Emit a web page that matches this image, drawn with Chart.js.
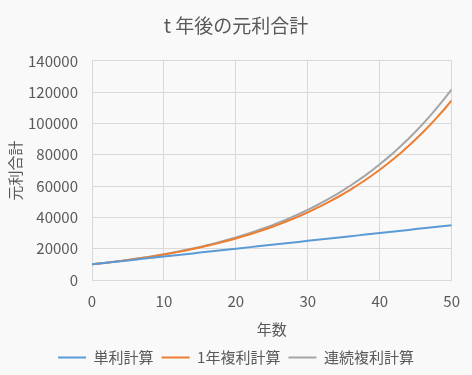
<!DOCTYPE html>
<html>
<head>
<meta charset="utf-8">
<script src="https://cdn.jsdelivr.net/npm/chart.js@4/dist/chart.umd.min.js"></script>
<style>
  body { margin: 0; background: #f9f9f9; }
  #wrap { width: 472px; height: 375px; }
</style>
</head>
<body>
<div id="wrap"><canvas id="chart"></canvas></div>
<script>
// 年数 t (0〜50)
var years = [0,1,2,3,4,5,6,7,8,9,10,11,12,13,14,15,16,17,18,19,20,21,22,23,24,25,
  26,27,28,29,30,31,32,33,34,35,36,37,38,39,40,41,42,43,44,45,46,47,48,49,50]

// 単利計算
var simple = [10000,10500,11000,11500,12000,12500,13000,13500,14000,14500,15000,
  15500,16000,16500,17000,17500,18000,18500,19000,19500,20000,20500,21000,21500,
  22000,22500,23000,23500,24000,24500,25000,25500,26000,26500,27000,27500,28000,
  28500,29000,29500,30000,30500,31000,31500,32000,32500,33000,33500,34000,34500,35000]

// 1年複利計算
var yearly = [10000,10500,11025,11576,12155,12763,13401,14071,14775,15513,16289,
  17103,17959,18856,19799,20789,21829,22920,24066,25270,26533,27860,29253,30715,
  32251,33864,35557,37335,39201,41161,43219,45380,47649,50032,52533,55160,57918,
  60814,63855,67048,70400,73920,77616,81497,85572,89850,94343,99060,104013,109213,114674]

// 連続複利計算
var continuous = [10000,10513,11052,11618,12214,12840,13499,14191,14918,15683,16487,
  17333,18221,19155,20138,21170,22255,23396,24596,25857,27183,28577,30042,31582,
  33201,34903,36693,38574,40552,42631,44817,47115,49530,52070,54739,57546,60496,
  63598,66859,70287,73891,77679,81662,85849,90250,94877,99742,104856,110232,115883,121825]

var colorSimple = "#5b9bd5"
var colorYearly = "#ed7d31"
var colorCont = "#a5a5a5"
var textColor = "#595959"
var gridColor = "#d9d9d9"
var fontFamily = "'Noto Sans CJK JP', 'Noto Sans', sans-serif"

function points(values) {
  return values.map((v, i) => ({ x: years[i], y: v }))
}

function line(label, values, color) {
  return {
    label: label,
    data: points(values),
    borderColor: color,
    backgroundColor: color,
    borderWidth: 2,
    pointRadius: 0,
    tension: 0
  }
}

new Chart(document.getElementById("chart"), {
  type: 'line',
  data: {
    datasets: [
      line('単利計算', simple, colorSimple),
      line('1年複利計算', yearly, colorYearly),
      line('連続複利計算', continuous, colorCont)
    ]
  },
  options: {
    responsive: true,
    maintainAspectRatio: false,
    animation: false,
    layout: { padding: 0 },
    plugins: {
      title: {
        display: true,
        text: 't 年後の元利合計',
        color: textColor,
        font: { family: fontFamily, size: 19, weight: 'normal' },
        padding: { top: 14, bottom: 24 }
      },
      legend: {
        position: 'bottom',
        labels: {
          color: textColor,
          font: { family: fontFamily, size: 15 },
          usePointStyle: true,
          pointStyle: 'line',
          pointStyleWidth: 28,
          padding: 8
        }
      },
      tooltip: { enabled: false }
    },
    scales: {
      x: {
        type: 'linear',
        min: 0,
        max: 50,
        ticks: { stepSize: 10, color: textColor, font: { family: fontFamily, size: 15 }, padding: 12 },
        grid: { color: gridColor, drawTicks: false },
        border: { color: gridColor },
        title: { display: true, text: '年数', color: textColor, font: { family: fontFamily, size: 15 }, padding: { top: 2, bottom: 4 } },
        afterFit: (scale) => { scale.height = 62 }
      },
      y: {
        min: 0,
        max: 140000,
        ticks: { stepSize: 20000, color: textColor, font: { family: fontFamily, size: 15 }, padding: 14,
          callback: (v) => String(v) },
        grid: { color: gridColor, drawTicks: false },
        border: { color: gridColor },
        title: { display: true, text: '元利合計', color: textColor, font: { family: fontFamily, size: 15 }, padding: { top: 6, bottom: 0 } },
        afterFit: (scale) => { scale.width = 92 }
      },
      // 右側の余白
      yRight: {
        position: 'right',
        display: true,
        grid: { display: false, drawTicks: false },
        border: { display: false },
        ticks: { display: false },
        afterFit: (scale) => { scale.width = 17 }
      }
    }
  }
})
</script>
</body>
</html>
